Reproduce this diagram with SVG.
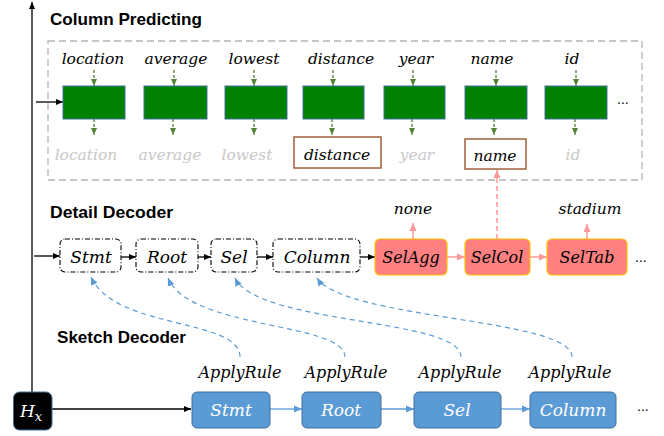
<svg xmlns="http://www.w3.org/2000/svg" width="664" height="436" viewBox="0 0 664 436">
<style>
.title{font-family:"Liberation Sans",Arial,sans-serif;font-weight:bold;font-size:17px;fill:#000}
.it{font-family:"DejaVu Serif",serif;font-style:italic;font-size:15.5px;text-anchor:middle}
.dtx{font-size:17px}
.ptx{font-size:16px}
.btx{font-size:17px}
.art{font-size:16px}
.lbl{fill:#000}
.gray{fill:#c8c8c8}
.white{fill:#fff}
.green{fill:#008000;stroke:#41719c;stroke-width:1}
.garrow{stroke:#548235;stroke-width:1.3;stroke-dasharray:3,2;fill:none;marker-end:url(#mg)}
.dd{fill:#fff;stroke:#000;stroke-width:1.1;stroke-dasharray:5,2,1,2}
.pink{fill:#ff8080;stroke:#ffc000;stroke-width:1.2}
.blue{fill:#5b9bd5;stroke:#41719c;stroke-width:1}
.blk{stroke:#000;stroke-width:1.3;fill:none;marker-end:url(#mb)}
.parr{stroke:#ff9999;stroke-width:1.5;fill:none;marker-end:url(#mp)}
.barr{stroke:#5b9bd5;stroke-width:1.3;fill:none;marker-end:url(#mbl)}
.curve{stroke:#5b9bd5;stroke-width:1.2;stroke-dasharray:5,4;fill:none;marker-end:url(#mbl)}
.brown{fill:#fff;stroke:#a0603a;stroke-width:1.5}
.dots{font-family:"Liberation Sans",Arial,sans-serif;font-size:14px;fill:#000}
</style>
<defs>
<marker id="mb" markerWidth="8" markerHeight="8" refX="7" refY="4" orient="auto" markerUnits="userSpaceOnUse"><path d="M0,1 L7,4 L0,7 z" fill="#000"/></marker>
<marker id="mg" markerWidth="8" markerHeight="8" refX="7" refY="4" orient="auto" markerUnits="userSpaceOnUse"><path d="M0,1 L7,4 L0,7 z" fill="#548235"/></marker>
<marker id="mp" markerWidth="9" markerHeight="9" refX="8" refY="4.5" orient="auto" markerUnits="userSpaceOnUse"><path d="M0,1 L8,4.5 L0,8 z" fill="#ff9999"/></marker>
<marker id="mbl" markerWidth="9" markerHeight="9" refX="8" refY="4.5" orient="auto" markerUnits="userSpaceOnUse"><path d="M0,1 L8,4.5 L0,8 z" fill="#5b9bd5"/></marker>
</defs>

<!-- titles -->
<text class="title" x="50" y="25" textLength="152" lengthAdjust="spacingAndGlyphs">Column Predicting</text>
<text class="title" x="50" y="218" textLength="123" lengthAdjust="spacingAndGlyphs">Detail Decoder</text>
<text class="title" x="57" y="343" textLength="129" lengthAdjust="spacingAndGlyphs">Sketch Decoder</text>

<!-- column predicting frame -->
<rect x="48" y="41" width="594" height="139" fill="none" stroke="#b4b4b4" stroke-width="1.3" stroke-dasharray="7,4"/>

<g id="connectors">
  <line class="blk" x1="32" y1="392" x2="32" y2="2"/>
  <line class="blk" x1="36" y1="102" x2="63" y2="102"/>
  <line class="blk" x1="34" y1="256" x2="60" y2="256"/>
  <line class="blk" x1="52" y1="409" x2="191" y2="409"/>
  <line class="garrow" x1="94" y1="70" x2="94" y2="86"/>
  <line class="garrow" x1="174" y1="70" x2="174" y2="86"/>
  <line class="garrow" x1="254" y1="70" x2="254" y2="86"/>
  <line class="garrow" x1="333" y1="70" x2="333" y2="86"/>
  <line class="garrow" x1="413" y1="70" x2="413" y2="86"/>
  <line class="garrow" x1="496" y1="70" x2="496" y2="86"/>
  <line class="garrow" x1="576" y1="70" x2="576" y2="86"/>
  <line class="garrow" x1="94" y1="119" x2="94" y2="135"/>
  <line class="garrow" x1="173" y1="119" x2="173" y2="135"/>
  <line class="garrow" x1="254" y1="119" x2="254" y2="135"/>
  <line class="garrow" x1="332" y1="119" x2="332" y2="135"/>
  <line class="garrow" x1="412" y1="119" x2="412" y2="135"/>
  <line class="garrow" x1="494" y1="119" x2="494" y2="135"/>
  <line class="garrow" x1="575" y1="119" x2="575" y2="135"/>
  <line class="blk" x1="121" y1="257" x2="136" y2="257"/>
  <line class="blk" x1="198" y1="257" x2="211" y2="257"/>
  <line class="blk" x1="257" y1="257" x2="273" y2="257"/>
  <line class="blk" x1="360" y1="257" x2="375" y2="257"/>
  <line class="parr" x1="447" y1="257" x2="465" y2="257"/>
  <line class="parr" x1="530" y1="257" x2="547" y2="257"/>
  <line class="parr" x1="413" y1="239" x2="413" y2="223"/>
  <line class="parr" x1="587" y1="239" x2="587" y2="224"/>
  <line class="parr" x1="497" y1="239" x2="497" y2="170" stroke-dasharray="5,3"/>
  <line class="barr" x1="270" y1="409" x2="302" y2="409"/>
  <line class="barr" x1="381" y1="409" x2="414" y2="409"/>
  <line class="barr" x1="501" y1="409" x2="530" y2="409"/>
  <path class="curve" d="M240,357 C240,318 115,330 91,277"/>
  <path class="curve" d="M345,357 C345,322 190,330 168,278"/>
  <path class="curve" d="M461,357 C461,318 258,325 235,278"/>
  <path class="curve" d="M572,357 C572,318 345,320 317,278"/>
</g>

<g id="cp-location"><text class="it lbl" x="93" y="64">location</text><rect class="green" x="63" y="86" width="62" height="33"/><text class="it gray" x="86" y="160">location</text></g>
<g id="cp-average"><text class="it lbl" x="176" y="64">average</text><rect class="green" x="144" y="86" width="63" height="33"/><text class="it gray" x="170" y="160">average</text></g>
<g id="cp-lowest"><text class="it lbl" x="254" y="64">lowest</text><rect class="green" x="225" y="86" width="62" height="33"/><text class="it gray" x="247" y="160">lowest</text></g>
<g id="cp-distance"><text class="it lbl" x="341" y="64">distance</text><rect class="green" x="303" y="86" width="61" height="33"/><rect class="brown" x="294" y="137" width="87" height="31"/><text class="it lbl" x="337" y="160">distance</text></g>
<g id="cp-year"><text class="it lbl" x="416" y="64">year</text><rect class="green" x="384" y="86" width="61" height="33"/><text class="it gray" x="417" y="160">year</text></g>
<g id="cp-name"><text class="it lbl" x="492" y="64">name</text><rect class="green" x="465" y="86" width="62" height="33"/><rect class="brown" x="465" y="139" width="61" height="30"/><text class="it lbl" x="495" y="161">name</text></g>
<g id="cp-id"><text class="it lbl" x="572" y="64">id</text><rect class="green" x="545" y="86" width="62" height="33"/><text class="it gray" x="573" y="160">id</text></g>
<text class="dots" x="617" y="104">...</text>

<g id="dd-stmt"><rect class="dd" x="60" y="239" width="61" height="33" rx="5"/><text class="it dtx lbl" x="91" y="263">Stmt</text></g>
<g id="dd-root"><rect class="dd" x="136" y="239" width="62" height="33" rx="5"/><text class="it dtx lbl" x="167" y="263">Root</text></g>
<g id="dd-sel"><rect class="dd" x="211" y="239" width="46" height="33" rx="5"/><text class="it dtx lbl" x="234" y="263">Sel</text></g>
<g id="dd-column"><rect class="dd" x="273" y="239" width="87" height="33" rx="5"/><text class="it dtx lbl" x="317" y="263">Column</text></g>
<g id="dd-selagg"><rect class="pink" x="375" y="239" width="72" height="36" rx="5"/><text class="it ptx lbl" x="411" y="263">SelAgg</text></g>
<g id="dd-selcol"><rect class="pink" x="465" y="239" width="65" height="36" rx="5"/><text class="it ptx lbl" x="497" y="263">SelCol</text></g>
<g id="dd-seltab"><rect class="pink" x="547" y="239" width="80" height="36" rx="5"/><text class="it ptx lbl" x="587" y="263">SelTab</text></g>
<g id="dd-none"><text class="it lbl" x="413" y="214">none</text></g>
<g id="dd-stadium"><text class="it lbl" x="590" y="214">stadium</text></g>
<text class="dots" x="635" y="262">...</text>

<g id="hx"><rect x="13.5" y="392" width="38.5" height="38" rx="6" fill="#000" stroke="#41719c" stroke-width="1"/><text class="it white" x="31" y="417" style="font-size:17px">H<tspan dy="4" style="font-size:13px">x</tspan></text></g>
<g id="sk-stmt"><rect class="blue" x="192" y="392" width="78" height="36" rx="5"/><text class="it btx white" x="231" y="416">Stmt</text><text class="it art lbl" x="240" y="378">ApplyRule</text></g>
<g id="sk-root"><rect class="blue" x="302" y="392" width="79" height="36" rx="5"/><text class="it btx white" x="341" y="416">Root</text><text class="it art lbl" x="346" y="378">ApplyRule</text></g>
<g id="sk-sel"><rect class="blue" x="414" y="392" width="87" height="36" rx="5"/><text class="it btx white" x="457" y="416">Sel</text><text class="it art lbl" x="460" y="378">ApplyRule</text></g>
<g id="sk-column"><rect class="blue" x="530" y="392" width="86" height="36" rx="5"/><text class="it btx white" x="573" y="416">Column</text><text class="it art lbl" x="570" y="378">ApplyRule</text></g>
<text class="dots" x="637" y="411">...</text>
</svg>
